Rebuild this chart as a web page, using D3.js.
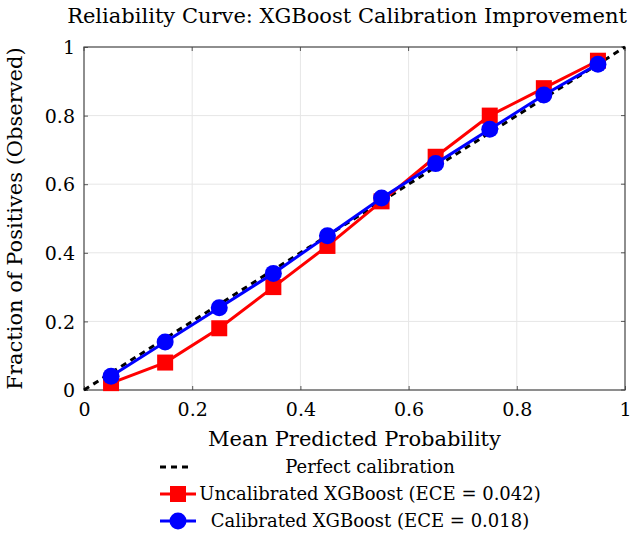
<!DOCTYPE html>
<html>
<head>
<meta charset="utf-8">
<script src="https://cdn.jsdelivr.net/npm/d3@7"></script>
<style>
  body { margin: 0; background: #fff; }
  svg text { font-family: "DejaVu Serif", "Liberation Serif", serif; fill: #000; }
</style>
</head>
<body>
<div id="chart"></div>
<script>
// bin centres and observed fractions
var binCentres = [0.05, 0.15, 0.25, 0.35, 0.45, 0.55, 0.65, 0.75, 0.85, 0.95];
var uncalibrated = [0.02, 0.08, 0.18, 0.30, 0.42, 0.55, 0.68, 0.80, 0.88, 0.96];
var calibrated = [0.04, 0.14, 0.24, 0.34, 0.45, 0.56, 0.66, 0.76, 0.86, 0.95];
var perfectLine = [[0, 0], [1, 1]];
var tickValues = [0, 0.2, 0.4, 0.6, 0.8, 1];
var legendLabels = ["Perfect calibration", "Uncalibrated XGBoost (ECE = 0.042)", "Calibrated XGBoost (ECE = 0.018)"];

var width = 638, height = 538;
var plot = {left: 84, top: 47, right: 625, bottom: 390};

var svg = d3.select('#chart').append('svg')
  .attr('width', width)
  .attr('height', height);

var x = d3.scaleLinear().domain([0, 1]).range([plot.left, plot.right]);
var y = d3.scaleLinear().domain([0, 1]).range([plot.bottom, plot.top]);

var fmt = function(d) { return d === 0 || d === 1 ? String(d) : d3.format('.1f')(d); };

// grid
var grid = svg.append('g').attr('class', 'grid');
grid.selectAll('.gx').data(tickValues.slice(1, -1)).enter().append('line')
  .attr('x1', d => x(d)).attr('x2', d => x(d))
  .attr('y1', plot.top).attr('y2', plot.bottom)
  .attr('stroke', '#e6e6e6').attr('stroke-width', 1);
grid.selectAll('.gy').data(tickValues.slice(1, -1)).enter().append('line')
  .attr('y1', d => y(d)).attr('y2', d => y(d))
  .attr('x1', plot.left).attr('x2', plot.right)
  .attr('stroke', '#e6e6e6').attr('stroke-width', 1);

// axes (ticks pointing inwards, labels outside)
var xAxis = svg.append('g')
  .attr('transform', `translate(0,${plot.bottom})`)
  .call(d3.axisBottom(x).tickValues(tickValues).tickFormat(fmt).tickSizeInner(-4).tickSizeOuter(0).tickPadding(9));
var yAxis = svg.append('g')
  .attr('transform', `translate(${plot.left},0)`)
  .call(d3.axisLeft(y).tickValues(tickValues).tickFormat(fmt).tickSizeInner(-4).tickSizeOuter(0).tickPadding(9));
[xAxis, yAxis].forEach(function(a) {
  a.select('.domain').remove();
  a.selectAll('line').attr('stroke', '#555');
  a.selectAll('text').style('font-size', '19px').style('font-family', '"DejaVu Serif", serif');
});
xAxis.selectAll('text').attr('dy', '0.9em');
yAxis.selectAll('text').attr('dy', '0.35em');

// top / right ticks
svg.append('g').selectAll('line').data(tickValues).enter().append('line')
  .attr('x1', d => x(d)).attr('x2', d => x(d))
  .attr('y1', plot.top).attr('y2', plot.top + 4)
  .attr('stroke', '#555');
svg.append('g').selectAll('line').data(tickValues).enter().append('line')
  .attr('y1', d => y(d)).attr('y2', d => y(d))
  .attr('x1', plot.right).attr('x2', plot.right - 4)
  .attr('stroke', '#555');

// frame
svg.append('rect')
  .attr('x', plot.left).attr('y', plot.top)
  .attr('width', plot.right - plot.left).attr('height', plot.bottom - plot.top)
  .attr('fill', 'none').attr('stroke', '#444').attr('stroke-width', 1.2);

var line = d3.line().x(d => x(d[0])).y(d => y(d[1]));

// perfect calibration
svg.append('path')
  .datum(perfectLine)
  .attr('d', line)
  .attr('fill', 'none')
  .attr('stroke', '#000')
  .attr('stroke-width', 3)
  .attr('stroke-dasharray', '6,5');

var uncal = binCentres.map((b, i) => [b, uncalibrated[i]]);
var cal = binCentres.map((b, i) => [b, calibrated[i]]);

// uncalibrated
svg.append('path').datum(uncal).attr('d', line)
  .attr('fill', 'none').attr('stroke', '#ff0000').attr('stroke-width', 3);
svg.append('g').selectAll('rect').data(uncal).enter().append('rect')
  .attr('x', d => x(d[0]) - 8).attr('y', d => y(d[1]) - 8)
  .attr('width', 16).attr('height', 16)
  .attr('fill', '#ff0000');

// calibrated
svg.append('path').datum(cal).attr('d', line)
  .attr('fill', 'none').attr('stroke', '#0000ff').attr('stroke-width', 3);
svg.append('g').selectAll('circle').data(cal).enter().append('circle')
  .attr('cx', d => x(d[0])).attr('cy', d => y(d[1]))
  .attr('r', 8.5)
  .attr('fill', '#0000ff');

// title
svg.append('text')
  .attr('x', 347).attr('y', 23)
  .attr('text-anchor', 'middle')
  .style('font-size', '21px')
  .text('Reliability Curve: XGBoost Calibration Improvement');

// axis labels
svg.append('text')
  .attr('x', x(0.5)).attr('y', 446)
  .attr('text-anchor', 'middle')
  .style('font-size', '21px')
  .text('Mean Predicted Probability');
svg.append('text')
  .attr('transform', `translate(22,${(plot.top + plot.bottom) / 2}) rotate(-90)`)
  .attr('text-anchor', 'middle')
  .style('font-size', '21px')
  .text('Fraction of Positives (Observed)');

// legend
var legend = svg.append('g');
var rowY = [467, 494, 521];
legendLabels.forEach(function(label, i) {
  var g = legend.append('g').attr('transform', `translate(0,${rowY[i]})`);
  if (i === 0) {
    g.append('line').attr('x1', 160).attr('x2', 193).attr('y1', 0).attr('y2', 0)
      .attr('stroke', '#000').attr('stroke-width', 3).attr('stroke-dasharray', '6,5');
  } else {
    var c = i === 1 ? '#ff0000' : '#0000ff';
    g.append('line').attr('x1', 160).attr('x2', 196).attr('y1', 0).attr('y2', 0)
      .attr('stroke', c).attr('stroke-width', 3);
    if (i === 1) {
      g.append('rect').attr('x', 170).attr('y', -8).attr('width', 16).attr('height', 16).attr('fill', c);
    } else {
      g.append('circle').attr('cx', 178).attr('cy', 0).attr('r', 8.5).attr('fill', c);
    }
  }
  g.append('text')
    .attr('x', 370).attr('y', 0).attr('dy', '0.35em')
    .attr('text-anchor', 'middle')
    .style('font-size', '18px')
    .text(label);
});
</script>
</body>
</html>
